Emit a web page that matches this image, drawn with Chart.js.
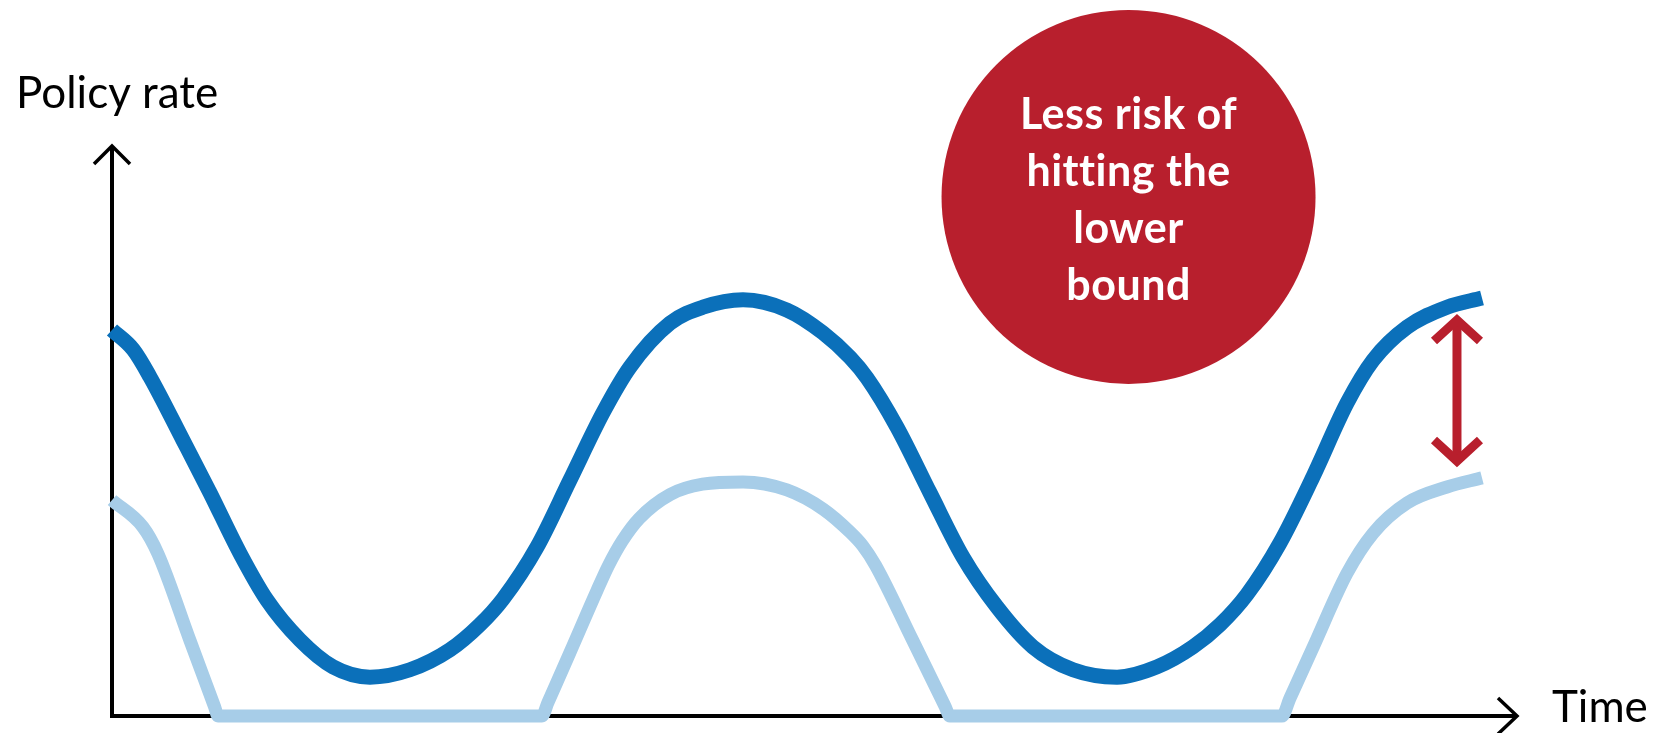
<!DOCTYPE html>
<html>
<head>
<meta charset="utf-8">
<title>Policy rate over time</title>
<script src="https://cdn.jsdelivr.net/npm/chart.js@4.4.1/dist/chart.umd.min.js"></script>
<style>
  html, body { margin: 0; padding: 0; background: #ffffff; }
  #wrap { width: 1654px; height: 733px; position: relative; }
</style>
</head>
<body>
<div id="wrap"><canvas id="chart" width="1654" height="733"></canvas></div>
<script>
// Higher neutral rate path (dark blue): time / policy rate
const timeHigh = [0, 1.5, 2.7, 5.05, 6.97, 9.1, 11.02, 13.37, 15.72, 18.35, 21.19, 24.04, 26.17, 27.81, 30.23,
  32.57, 34.92, 36.84, 39.69, 42.03, 44.88, 48.01, 50.57, 52.49, 53.7, 55.83, 58.18, 60.53, 62.94, 65.5,
  68.35, 71.48, 74.32, 76.88, 78.81, 80.73, 83.07, 85.42, 87.84, 89.69, 92.11, 94.95, 97.44];
const rateHigh = [6.76, 6.42, 5.94, 4.83, 3.91, 2.85, 2.03, 1.33, 0.86, 0.68, 0.81, 1.16, 1.60, 2.05, 2.96,
  4.13, 5.31, 6.11, 6.88, 7.16, 7.29, 7.11, 6.71, 6.28, 5.92, 5.06, 3.91, 2.78, 1.91, 1.21,
  0.81, 0.68, 0.86, 1.21, 1.60, 2.13, 3.03, 4.19, 5.48, 6.23, 6.81, 7.16, 7.32];

// Lower neutral rate path (light blue), floored at the lower bound
const timeLow = [0, 2.2, 3.27, 5.55, 7.3, 7.54,
  30.58, 31.01, 32.57, 34.5, 35.3, 36.3, 37.5, 39.7, 42.0, 44.88, 48.0, 50.6, 52.5, 53.4, 54.3, 56.9, 59.25, 59.6,
  83.21, 83.78, 85.42, 87.84, 89.69, 92.11, 94.95, 97.44];
const rateLow = [3.78, 3.31, 2.84, 1.32, 0.16, 0,
  0, 0.24, 1.11, 2.20, 2.63, 3.07, 3.46, 3.88, 4.06, 4.10, 3.96, 3.62, 3.22, 2.98, 2.64, 1.35, 0.17, 0,
  0, 0.31, 1.20, 2.50, 3.20, 3.73, 4.01, 4.17];

// Axis titles and callout text
const yAxisTitle = 'Policy rate';
const xAxisTitle = 'Time';
const calloutLines = ['Less risk of', 'hitting the', 'lower', 'bound'];

const RED = '#B81F2D';

function toPoints(xs, ys) {
  return xs.map((x, i) => ({ x: x, y: ys[i] }));
}

// Draws the arrowed axes, axis titles, the callout disc and the gap arrow
const diagramDecor = {
  id: 'diagramDecor',
  beforeDatasetsDraw(chart) {
    const { ctx, chartArea: a } = chart;
    ctx.save();
    ctx.strokeStyle = '#000000';
    ctx.lineJoin = 'miter';
    ctx.lineCap = 'butt';
    ctx.lineWidth = 4;
    ctx.beginPath();
    ctx.moveTo(a.left, a.top + 2);
    ctx.lineTo(a.left, a.bottom);
    ctx.lineTo(a.right - 2, a.bottom);
    ctx.stroke();

    ctx.lineWidth = 3.5;
    ctx.beginPath();
    ctx.moveTo(a.left - 18, a.top + 19);
    ctx.lineTo(a.left, a.top + 1);
    ctx.lineTo(a.left + 18, a.top + 19);
    ctx.moveTo(a.right - 20, a.bottom - 18);
    ctx.lineTo(a.right - 1, a.bottom);
    ctx.lineTo(a.right - 20, a.bottom + 18);
    ctx.stroke();

    ctx.fillStyle = '#000000';
    ctx.font = '44px Lato';
    ctx.textAlign = 'left';
    ctx.textBaseline = 'alphabetic';
    ctx.fillText(yAxisTitle, a.left - 96, a.top - 37);
    ctx.fillText(xAxisTitle, a.right + 34, a.bottom + 6);
    ctx.restore();
  },
  afterDatasetsDraw(chart, args, opts) {
    const { ctx, scales } = chart;
    const xs = scales.x, ys = scales.y;
    ctx.save();

    // callout disc
    const c = opts.callout;
    const cx = xs.getPixelForValue(c.x);
    const cy = ys.getPixelForValue(c.y);
    ctx.fillStyle = RED;
    ctx.beginPath();
    ctx.arc(cx, cy, c.radius, 0, Math.PI * 2);
    ctx.fill();

    ctx.fillStyle = '#ffffff';
    ctx.font = 'bold 43px Lato';
    ctx.textAlign = 'center';
    ctx.textBaseline = 'alphabetic';
    if ('letterSpacing' in ctx) ctx.letterSpacing = '0.5px';
    calloutLines.forEach((line, i) => {
      ctx.fillText(line, cx, cy + c.firstBaseline + i * c.lineStep);
    });
    if ('letterSpacing' in ctx) ctx.letterSpacing = '0px';

    // double-headed gap arrow
    const g = opts.gapArrow;
    const gx = xs.getPixelForValue(g.x);
    const gTop = ys.getPixelForValue(g.top);
    const gBot = ys.getPixelForValue(g.bottom);
    ctx.strokeStyle = RED;
    ctx.lineWidth = 9;
    ctx.lineCap = 'butt';
    ctx.lineJoin = 'miter';
    ctx.beginPath();
    ctx.moveTo(gx, gTop + 4);
    ctx.lineTo(gx, gBot - 4);
    ctx.stroke();
    ctx.beginPath();
    ctx.moveTo(gx - g.head, gTop + g.head);
    ctx.lineTo(gx, gTop + 2);
    ctx.lineTo(gx + g.head, gTop + g.head);
    ctx.moveTo(gx - g.head, gBot - g.head);
    ctx.lineTo(gx, gBot - 2);
    ctx.lineTo(gx + g.head, gBot - g.head);
    ctx.stroke();
    ctx.restore();
  }
};

new Chart(document.getElementById('chart'), {
  type: 'line',
  data: {
    datasets: [
      {
        label: 'Lower neutral rate',
        data: toPoints(timeLow, rateLow),
        borderColor: '#A7CDE8',
        borderWidth: 13,
        pointRadius: 0,
        cubicInterpolationMode: 'monotone',
        clip: false,
        order: 2
      },
      {
        label: 'Higher neutral rate',
        data: toPoints(timeHigh, rateHigh),
        borderColor: '#0B70BA',
        borderWidth: 15,
        pointRadius: 0,
        cubicInterpolationMode: 'monotone',
        clip: false,
        order: 1
      }
    ]
  },
  options: {
    responsive: false,
    animation: false,
    events: [],
    layout: { padding: { left: 112, right: 136, top: 145, bottom: 17 } },
    scales: {
      x: { type: 'linear', min: 0, max: 100, display: false },
      y: { type: 'linear', min: 0, max: 10, display: false }
    },
    plugins: {
      legend: { display: false },
      tooltip: { enabled: false },
      diagramDecor: {
        callout: { x: 72.3, y: 9.09, radius: 187, firstBaseline: -68, lineStep: 57 },
        gapArrow: { x: 95.66, top: 6.97, bottom: 4.43, head: 23 }
      }
    }
  },
  plugins: [diagramDecor]
});
</script>
</body>
</html>
